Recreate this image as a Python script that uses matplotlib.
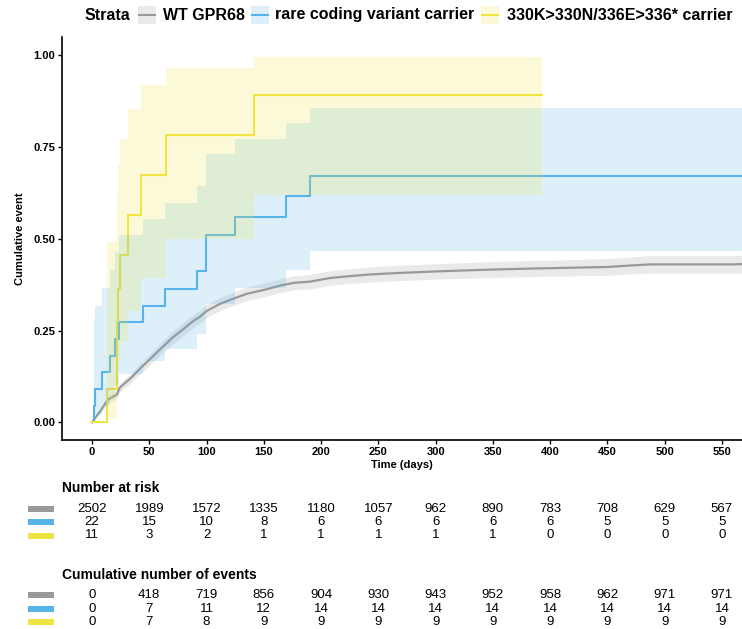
import matplotlib
matplotlib.use("Agg")
import matplotlib.pyplot as plt
from matplotlib.patches import Rectangle
from matplotlib.lines import Line2D
from matplotlib.transforms import blended_transform_factory

plt.rcParams['font.family'] = ['Liberation Sans', 'DejaVu Sans']

# ---- datos ----
strata = ["WT GPR68", "rare coding variant carrier", "330K>330N/336E>336* carrier"]
colores = ["#999999", "#56B4E9", "#F0E442"]

# WT GPR68 (curva casi continua)
wt_t = [0, 2.6, 7, 14, 21.5, 24.4, 33, 40, 44.8, 50, 56.5, 65, 70, 77, 88, 94, 100,
        112, 123, 135, 152, 165, 177, 190, 208, 225, 240, 251, 270, 310, 350, 388,
        420, 450, 470, 487, 560, 580]
wt_est = [0, 0.012, 0.030, 0.062, 0.075, 0.095, 0.118, 0.140, 0.155, 0.170, 0.190,
          0.215, 0.230, 0.247, 0.275, 0.287, 0.303, 0.323, 0.336, 0.350, 0.362,
          0.373, 0.380, 0.383, 0.393, 0.398, 0.402, 0.404, 0.407, 0.412, 0.416,
          0.419, 0.421, 0.423, 0.427, 0.430, 0.430, 0.432]
wt_low = [0, 0.007, 0.022, 0.052, 0.064, 0.083, 0.105, 0.126, 0.140, 0.155, 0.174,
          0.198, 0.213, 0.229, 0.257, 0.269, 0.285, 0.305, 0.318, 0.331, 0.343,
          0.354, 0.361, 0.363, 0.373, 0.378, 0.381, 0.383, 0.386, 0.391, 0.394,
          0.397, 0.399, 0.400, 0.404, 0.406, 0.406, 0.407]
wt_up = [0, 0.017, 0.038, 0.072, 0.086, 0.107, 0.131, 0.154, 0.170, 0.185, 0.206,
         0.232, 0.247, 0.265, 0.293, 0.305, 0.321, 0.341, 0.354, 0.369, 0.381,
         0.392, 0.399, 0.403, 0.413, 0.418, 0.423, 0.425, 0.428, 0.433, 0.438,
         0.441, 0.443, 0.446, 0.450, 0.454, 0.454, 0.457]

# portadores de variante rara
rare_t = [0, 1.5, 2.5, 8.4, 15.7, 20.0, 23.9, 44.8, 63.7, 91.4, 99.5, 124.8, 169.4, 190.3, 580]
rare_est = [0, 0.045, 0.091, 0.136, 0.182, 0.227, 0.273, 0.318, 0.364, 0.413, 0.511,
            0.559, 0.615, 0.670, 0.670]
rare_low = [0, 0.007, 0.024, 0.046, 0.072, 0.102, 0.133, 0.166, 0.201, 0.240, 0.322,
            0.366, 0.415, 0.467, 0.467]
rare_up = [0, 0.281, 0.317, 0.366, 0.415, 0.463, 0.509, 0.554, 0.597, 0.644, 0.731,
           0.771, 0.816, 0.857, 0.857]

# portadores 330K>330N/336E>336*
k330_t = [0, 13.4, 21.5, 23.0, 24.4, 31.7, 42.5, 64.6, 141.4, 393]
k330_est = [0, 0.091, 0.273, 0.364, 0.455, 0.564, 0.673, 0.782, 0.891, 0.891]
k330_low = [0, 0.013, 0.097, 0.155, 0.220, 0.302, 0.394, 0.499, 0.620, 0.620]
k330_up = [0, 0.492, 0.629, 0.703, 0.771, 0.853, 0.917, 0.965, 0.994, 0.994]

# tablas
tiempos = [0, 50, 100, 150, 200, 250, 300, 350, 400, 450, 500, 550]
riesgo_wt = [2502, 1989, 1572, 1335, 1180, 1057, 962, 890, 783, 708, 629, 567]
riesgo_rare = [22, 15, 10, 8, 6, 6, 6, 6, 6, 5, 5, 5]
riesgo_k330 = [11, 3, 2, 1, 1, 1, 1, 1, 0, 0, 0, 0]
eventos_wt = [0, 418, 719, 856, 904, 930, 943, 952, 958, 962, 971, 971]
eventos_rare = [0, 7, 11, 12, 14, 14, 14, 14, 14, 14, 14, 14]
eventos_k330 = [0, 7, 8, 9, 9, 9, 9, 9, 9, 9, 9, 9]

W, H = 742, 629
XLIM = (-26.2, 567.5)
fig = plt.figure(figsize=(W / 100, H / 100), dpi=100)


def fx(px):
    return px / W


def fy(py):
    return 1 - py / H


# ---- panel principal ----
ax = fig.add_axes([fx(62), fy(440), fx(W - 62), (440 - 37) / H])
ax.set_xlim(*XLIM)
ax.set_ylim(-0.048, 1.049)

curvas = [(wt_t, wt_est, wt_low, wt_up, False),
          (rare_t, rare_est, rare_low, rare_up, True),
          (k330_t, k330_est, k330_low, k330_up, True)]
for (t, est, lo, up, escalon), c in zip(curvas, colores):
    if escalon:
        ax.step(t, est, where="post", color=c, lw=1.5, zorder=2)
        ax.fill_between(t, lo, up, step="post", color=c, alpha=0.2, lw=0, zorder=3)
    else:
        ax.plot(t, est, color=c, lw=1.6, zorder=2)
        ax.fill_between(t, lo, up, color=c, alpha=0.2, lw=0, zorder=3)

ax.set_xticks(tiempos)
ax.set_yticks([0, 0.25, 0.5, 0.75, 1.0])
ax.set_yticklabels(["0.00", "0.25", "0.50", "0.75", "1.00"])
ax.tick_params(labelsize=8, width=1, length=3, color="black", pad=2)
for lab in ax.get_xticklabels() + ax.get_yticklabels():
    lab.set_fontweight("bold")
for s in ("top", "right"):
    ax.spines[s].set_visible(False)
for s in ("left", "bottom"):
    ax.spines[s].set_linewidth(1.2)
ax.set_xlabel("Time (days)", fontsize=8, fontweight="bold", labelpad=2)
ax.set_ylabel("Cumulative event", fontsize=8, fontweight="bold", labelpad=6)

# ---- leyenda superior ----
ly = 15
fig.text(fx(85), fy(ly), "Strata", fontsize=11.5, fontweight="bold", va="center")
leyenda = [(138, 163), (251, 275), (481, 507)]
for (kx, tx), nombre, c in zip(leyenda, strata, colores):
    fig.add_artist(Rectangle((fx(kx), fy(ly + 9)), 18 / W, 18 / H, transform=fig.transFigure,
                             facecolor=c, alpha=0.2, lw=0))
    fig.add_artist(Line2D([fx(kx + 1), fx(kx + 17)], [fy(ly), fy(ly)], transform=fig.transFigure,
                          color=c, lw=1.5))
    fig.text(fx(tx), fy(ly), nombre, fontsize=11.5, fontweight="bold", va="center")

# ---- tablas ----
axt = fig.add_axes([fx(62), 0, fx(W - 62), fy(445)])
axt.set_xlim(*XLIM)
axt.set_ylim(H, 445)
axt.axis("off")
trans = blended_transform_factory(fig.transFigure, axt.transData)

bloques = [("Number at risk", 488, [508.5, 522, 535.5], [riesgo_wt, riesgo_rare, riesgo_k330]),
           ("Cumulative number of events", 575, [595, 608.5, 622],
            [eventos_wt, eventos_rare, eventos_k330])]
for titulo, ty, filas, valores in bloques:
    axt.text(0, ty, titulo, transform=blended_transform_factory(axt.transAxes, axt.transData),
             ha="left", va="center", fontsize=10, fontweight="bold")
    for fila, vals, c in zip(filas, valores, colores):
        axt.add_patch(Rectangle((fx(28), fila - 3), 26 / W, 6, transform=trans,
                                facecolor=c, lw=0, clip_on=False))
        for t, v in zip(tiempos, vals):
            axt.text(t, fila, str(v), ha="center", va="center", fontsize=9.5)

fig.savefig("out.png", dpi=100, facecolor="white")
